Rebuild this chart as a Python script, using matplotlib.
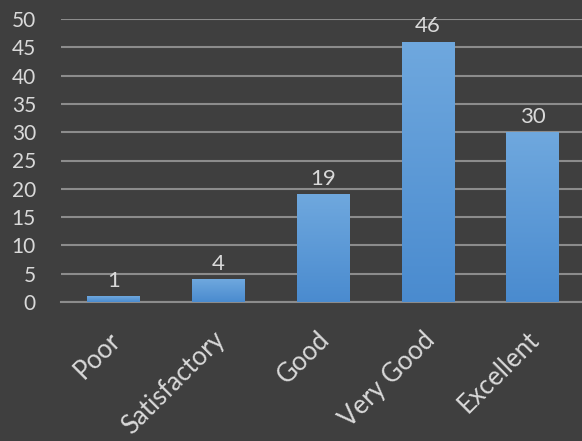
import numpy as np
import matplotlib.pyplot as plt
from matplotlib.colors import LinearSegmentedColormap
from matplotlib.transforms import ScaledTranslation

categories = ['Poor', 'Satisfactory', 'Good', 'Very Good', 'Excellent']
counts = [1, 4, 19, 46, 30]
yticks = list(range(0, 55, 5))

bg = '#3f3f3f'
text_col = '#d9d9d9'
grid_col = '#8c8c8c'

plt.rcParams['font.family'] = ['Lato', 'DejaVu Sans']

fig = plt.figure(figsize=(5.82, 4.41), dpi=100, facecolor=bg)
ax = fig.add_axes([61 / 582, 1 - 302 / 441, 524 / 582, 283 / 441])
ax.set_facecolor(bg)

x = np.arange(len(categories))
bars = ax.bar(x, counts, width=0.5, color='#5b9bd5', zorder=3)

# vertical gradient on each bar
cmap = LinearSegmentedColormap.from_list('bar', ['#4a8bcf', '#6fa8de'])
grad = np.linspace(0, 1, 256).reshape(-1, 1)
for b in bars:
    bx, by = b.get_x(), b.get_y()
    w, h = b.get_width(), b.get_height()
    im = ax.imshow(grad, cmap=cmap, origin='lower', aspect='auto',
                   extent=[bx, bx + w, by, by + h], zorder=4)
    im.set_clip_path(b)

for xi, v in zip(x, counts):
    ax.annotate(str(v), (xi, v), xytext=(0, 4), textcoords='offset points',
                ha='center', va='bottom', color=text_col, fontsize=16, zorder=5)

ax.set_xlim(-0.5, len(categories) - 0.5)
ax.set_ylim(0, 50)
ax.set_yticks(yticks)
ax.yaxis.grid(True, color=grid_col, linewidth=1.5, zorder=1)
ax.set_axisbelow(True)

for s in ['top', 'right', 'left']:
    ax.spines[s].set_visible(False)
ax.spines['bottom'].set_color(grid_col)
ax.spines['bottom'].set_linewidth(1.5)

ax.tick_params(axis='both', length=0, colors=text_col, labelsize=15)
ax.tick_params(axis='y', pad=18)
ax.set_xticks(x)
ax.set_xticklabels(categories, rotation=45, ha='right', va='top',
                   rotation_mode='anchor', fontsize=18.5)
ax.tick_params(axis='x', pad=18)
shift = ScaledTranslation(-6 / 100, 0, fig.dpi_scale_trans)
for lab in ax.get_xticklabels():
    lab.set_transform(lab.get_transform() + shift)

fig.savefig('out.png', dpi=100, facecolor=bg)
